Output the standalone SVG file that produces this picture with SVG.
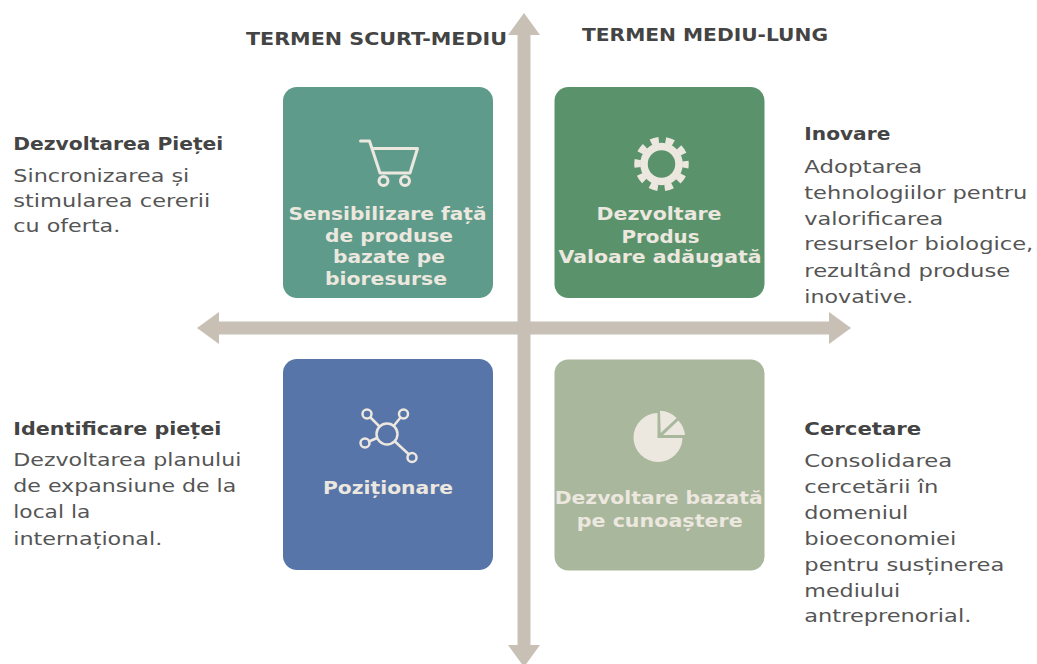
<svg xmlns="http://www.w3.org/2000/svg" width="1037" height="664" viewBox="0 0 1037 664">
<style>
text{font-family:"DejaVu Sans","Liberation Sans",sans-serif}
.card{rx:14px;ry:14px}
.ct{font-size:18.500px;font-weight:700;fill:#ece7df;text-anchor:middle}
.hd{font-size:18.500px;font-weight:700;fill:#444444}
.tt{font-size:18.500px;font-weight:700;fill:#444444}
.bd{font-size:18.500px;font-weight:400;fill:#555555}
.ic{fill:none;stroke:#ece7df;stroke-linecap:round;stroke-linejoin:round}
.ax{stroke:#c8bfb5;stroke-width:13;fill:none}
</style>
<defs>
<marker id="head" markerUnits="userSpaceOnUse" viewBox="0 0 22 32" refX="1" refY="16" markerWidth="22" markerHeight="32" orient="auto-start-reverse"><path d="M0 0L22 16L0 32Z" fill="#c8bfb5"/></marker>
</defs>
<g id="connectors">
<line class="ax" x1="524" y1="34" x2="524" y2="646" marker-start="url(#head)" marker-end="url(#head)"/>
<line class="ax" x1="218" y1="328" x2="830" y2="328" marker-start="url(#head)" marker-end="url(#head)"/>
</g>
<g id="header-left"><text class="tt" x="246" y="45" textLength="261" lengthAdjust="spacingAndGlyphs">TERMEN SCURT-MEDIU</text></g>
<g id="header-right"><text class="tt" x="582" y="41" textLength="246" lengthAdjust="spacingAndGlyphs">TERMEN MEDIU-LUNG</text></g>
<g id="card-market">
<rect class="card" x="283" y="87" width="210" height="211" fill="#5f9b8a"/>
<path class="ic" stroke-width="3" d="M360.500 141H369.500L380 173H410L417.500 148.500H372"/>
<circle class="ic" stroke-width="3" cx="383.500" cy="181" r="4.500"/><circle class="ic" stroke-width="3" cx="405" cy="181" r="4.500"/>
<text class="ct"><tspan x="387.500" y="220" textLength="198" lengthAdjust="spacingAndGlyphs">Sensibilizare față</tspan><tspan x="389" y="242" textLength="128" lengthAdjust="spacingAndGlyphs">de produse</tspan><tspan x="389" y="263" textLength="112" lengthAdjust="spacingAndGlyphs">bazate pe</tspan><tspan x="386" y="285" textLength="122" lengthAdjust="spacingAndGlyphs">bioresurse</tspan></text>
</g>
<g id="card-product">
<rect class="card" x="554.500" y="87" width="210" height="211" fill="#5a936b"/>
<circle cx="661.500" cy="164" r="17.500" fill="none" stroke="#ece7df" stroke-width="7.500"/>
<circle cx="661.500" cy="164" r="24" fill="none" stroke="#ece7df" stroke-width="6.500" stroke-dasharray="8 7.080" stroke-dashoffset="4"/>
<text class="ct"><tspan x="659" y="220" textLength="125" lengthAdjust="spacingAndGlyphs">Dezvoltare</tspan><tspan x="660.500" y="243" textLength="78" lengthAdjust="spacingAndGlyphs">Produs</tspan><tspan x="660" y="263" textLength="203" lengthAdjust="spacingAndGlyphs">Valoare adăugată</tspan></text>
</g>
<g id="card-position">
<rect class="card" x="283" y="359" width="210" height="211" fill="#5775a8"/>
<g class="ic" stroke-width="2.500">
<circle cx="387" cy="434" r="10.500"/>
<circle cx="367" cy="414" r="4.500"/><circle cx="403.500" cy="414" r="4.500"/><circle cx="365" cy="443" r="4.500"/><circle cx="412" cy="457.500" r="4.500"/>
<path d="M370.500 417.500L379.500 426.500M400.500 417.500L394 425.500M369 441.500L377 438M395 441.500L409 454.500"/>
</g>
<text class="ct" x="388" y="494" textLength="130" lengthAdjust="spacingAndGlyphs">Poziționare</text>
</g>
<g id="card-knowledge">
<rect class="card" x="554.500" y="359.500" width="210" height="211" fill="#a9b79c"/>
<path fill="#ece7df" d="M657.500 413A24.500 24.500 0 1 0 682.500 438H657.500Z"/>
<path fill="#ece7df" d="M660 410.700A25 25 0 0 1 676.700 418L660.700 433Z"/>
<path fill="#ece7df" d="M678.300 420.500A25 25 0 0 1 685 435H663Z"/>
<text class="ct"><tspan x="658.700" y="504" textLength="208" lengthAdjust="spacingAndGlyphs">Dezvoltare bazată</tspan><tspan x="659.700" y="526.500" textLength="166" lengthAdjust="spacingAndGlyphs">pe cunoaștere</tspan></text>
</g>
<g id="note-market">
<text class="hd" x="13.300" y="149.500" textLength="210" lengthAdjust="spacingAndGlyphs">Dezvoltarea Pieței</text>
<text class="bd"><tspan x="13.300" y="181.500" textLength="176" lengthAdjust="spacingAndGlyphs">Sincronizarea și</tspan><tspan x="13.300" y="206.500" textLength="197" lengthAdjust="spacingAndGlyphs">stimularea cererii</tspan><tspan x="13.300" y="232" textLength="107" lengthAdjust="spacingAndGlyphs">cu oferta.</tspan></text>
</g>
<g id="note-innovation">
<text class="hd" x="804.300" y="140" textLength="86" lengthAdjust="spacingAndGlyphs">Inovare</text>
<text class="bd"><tspan x="804.300" y="172.500" textLength="118" lengthAdjust="spacingAndGlyphs">Adoptarea</tspan><tspan x="804.300" y="198.500" textLength="223" lengthAdjust="spacingAndGlyphs">tehnologiilor pentru</tspan><tspan x="804.300" y="224.500" textLength="139" lengthAdjust="spacingAndGlyphs">valorificarea</tspan><tspan x="804.300" y="250" textLength="229" lengthAdjust="spacingAndGlyphs">resurselor biologice,</tspan><tspan x="804.300" y="277" textLength="206" lengthAdjust="spacingAndGlyphs">rezultând produse</tspan><tspan x="804.300" y="303" textLength="109" lengthAdjust="spacingAndGlyphs">inovative.</tspan></text>
</g>
<g id="note-identification">
<text class="hd" x="13.300" y="435" textLength="208" lengthAdjust="spacingAndGlyphs">Identificare pieței</text>
<text class="bd"><tspan x="13.300" y="465.500" textLength="228" lengthAdjust="spacingAndGlyphs">Dezvoltarea planului</tspan><tspan x="13.300" y="492" textLength="223" lengthAdjust="spacingAndGlyphs">de expansiune de la</tspan><tspan x="13.300" y="518" textLength="77" lengthAdjust="spacingAndGlyphs">local la</tspan><tspan x="13.300" y="544.500" textLength="149" lengthAdjust="spacingAndGlyphs">internațional.</tspan></text>
</g>
<g id="note-research">
<text class="hd" x="804.300" y="434.500" textLength="117" lengthAdjust="spacingAndGlyphs">Cercetare</text>
<text class="bd"><tspan x="804.300" y="466.500" textLength="148" lengthAdjust="spacingAndGlyphs">Consolidarea</tspan><tspan x="804.300" y="493" textLength="134" lengthAdjust="spacingAndGlyphs">cercetării în</tspan><tspan x="804.300" y="518.500" textLength="104" lengthAdjust="spacingAndGlyphs">domeniul</tspan><tspan x="804.300" y="545" textLength="152" lengthAdjust="spacingAndGlyphs">bioeconomiei</tspan><tspan x="804.300" y="570.500" textLength="200" lengthAdjust="spacingAndGlyphs">pentru susținerea</tspan><tspan x="804.300" y="596.500" textLength="96" lengthAdjust="spacingAndGlyphs">mediului</tspan><tspan x="804.300" y="622" textLength="167" lengthAdjust="spacingAndGlyphs">antreprenorial.</tspan></text>
</g>
</svg>
